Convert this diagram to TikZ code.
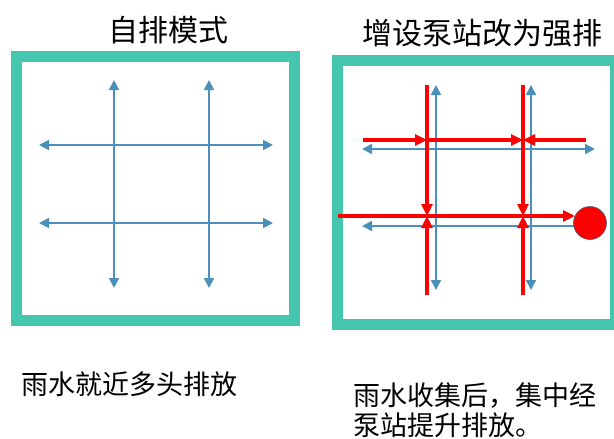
\documentclass[tikz,border=0pt]{standalone}
\usepackage{fontspec}
\setmainfont{Noto Sans CJK SC}
\usetikzlibrary{arrows.meta}
\definecolor{boxteal}{RGB}{69,198,174}
\definecolor{flowblue}{RGB}{74,144,186}
\definecolor{pumprim}{RGB}{70,90,120}

\begin{document}
\begin{tikzpicture}[x=1pt,y=-1pt,
    frame/.style={draw=boxteal, line width=11pt},
    flow/.style={draw=flowblue, line width=1.8pt, {Triangle[length=10pt,width=10pt]}-{Triangle[length=10pt,width=10pt]}},
    flowleft/.style={draw=flowblue, line width=1.8pt, {Triangle[length=10pt,width=10pt]}-},
    pump/.style={draw=red, line width=3.5pt, -{Triangle[length=12pt,width=11pt]}},
    txt/.style={inner sep=0pt, font=\fontsize{27}{30}\selectfont},
    title/.style={inner sep=0pt, font=\fontsize{30}{34}\selectfont}]
    \useasboundingbox (0,0) rectangle (614,439);

    % titles and notes
    \node at (168.5,30) [title] (selftitle) {自排模式};
    \node at (482.5,33.5) [title] (pumptitle) {增设泵站改为强排};
    \node at (21,384) [txt, anchor=west] (selfnote) {雨水就近多头排放};
    \node at (353,410) [txt, anchor=west, align=left] (pumpnote) {雨水收集后，集中经\\泵站提升排放。};

    % frames
    \draw[frame] (16,56) rectangle (294.5,320.5);
    \draw[frame] (337.5,60.5) rectangle (615.5,324.5);

    % left grid
    \coordinate (a1) at (114,80);
    \coordinate (a2) at (114,288);
    \coordinate (b1) at (209,80);
    \coordinate (b2) at (209,288);
    \coordinate (c1) at (39,145);
    \coordinate (c2) at (273,145);
    \coordinate (d1) at (39,223);
    \coordinate (d2) at (273,223);
    \draw[flow] (a1) -- (a2);
    \draw[flow] (b1) -- (b2);
    \draw[flow] (c1) -- (c2);
    \draw[flow] (d1) -- (d2);

    % right grid
    \coordinate (e1) at (436,85);
    \coordinate (e2) at (436,290);
    \coordinate (f1) at (531,85);
    \coordinate (f2) at (531,290);
    \coordinate (g1) at (362,149);
    \coordinate (g2) at (595,149);
    \coordinate (h1) at (362,226);
    \coordinate (h2) at (578,226);
    \draw[flow] (e1) -- (e2);
    \draw[flow] (f1) -- (f2);
    \draw[flow] (g1) -- (g2);
    \draw[flowleft] (h1) -- (h2);

    % pumped flow
    \coordinate (J1) at (427,140);
    \coordinate (J2) at (523,140);
    \coordinate (J3) at (427,216);
    \coordinate (J4) at (523,216);
    \coordinate (p1) at (427,85);
    \coordinate (p2) at (523,85);
    \coordinate (q1) at (427,295);
    \coordinate (q2) at (523,295);
    \coordinate (r1) at (363,140);
    \coordinate (r2) at (586,140);
    \coordinate (s1) at (338,216);
    \coordinate (s2) at (575,216);

    \draw[pump] (p1) -- (J3);
    \draw[pump] (p2) -- (J4);
    \draw[pump] (q1) -- (J3);
    \draw[pump] (q2) -- (J4);
    \draw[pump] (r1) -- (J1);
    \draw[pump] (J1) -- (J2);
    \draw[pump] (r2) -- (J2);
    \draw[pump] (s1) -- (s2);
    \node at (590,223) [circle, fill=red, draw=pumprim, line width=0.6pt, minimum size=33pt, inner sep=0pt] (station) {};
\end{tikzpicture}
\end{document}
